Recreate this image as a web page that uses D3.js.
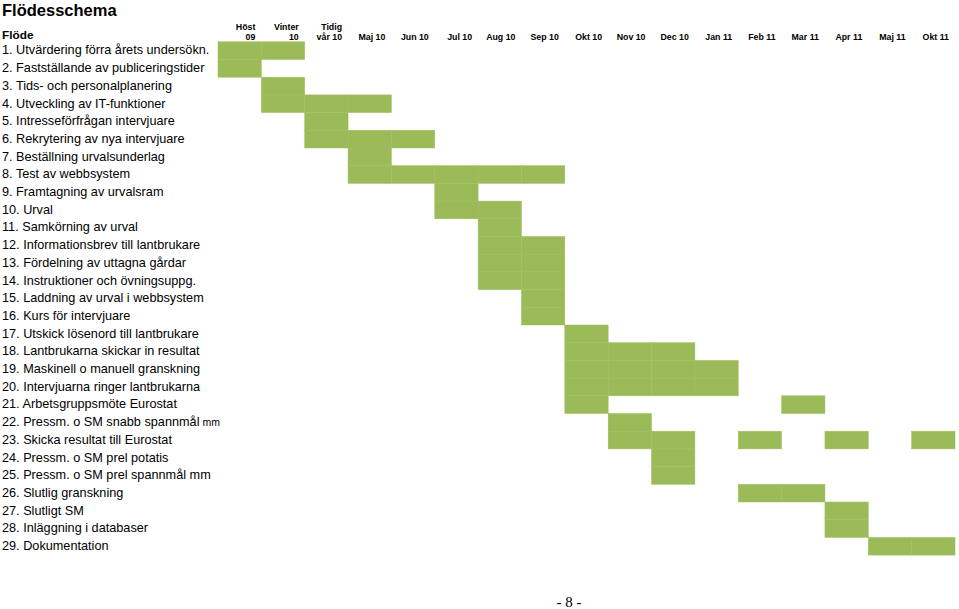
<!DOCTYPE html>
<html><head><meta charset="utf-8">
<script src="https://cdn.jsdelivr.net/npm/d3@7/dist/d3.min.js"></script>
<style>
html,body{margin:0;padding:0;background:#fff;}
svg{display:block;}
</style></head>
<body>
<script>
const title = "Flödesschema";
const flowHeader = "Flöde";
const periodLine1 = ["Höst","Vinter","Tidig","","","","","","","","","","","","","",""];
const periodLine2 = ["09","10","vår 10","Maj 10","Jun 10","Jul 10","Aug 10","Sep 10","Okt 10","Nov 10","Dec 10","Jan 11","Feb 11","Mar 11","Apr 11","Maj 11","Okt 11"];
const tasks = [
 "1. Utvärdering förra årets undersökn.",
 "2. Fastställande av publiceringstider",
 "3. Tids- och personalplanering",
 "4. Utveckling av IT-funktioner",
 "5. Intresseförfrågan intervjuare",
 "6. Rekrytering av nya intervjuare",
 "7. Beställning urvalsunderlag",
 "8. Test av webbsystem",
 "9. Framtagning av urvalsram",
 "10. Urval",
 "11. Samkörning av urval",
 "12. Informationsbrev till lantbrukare",
 "13. Fördelning av uttagna gårdar",
 "14. Instruktioner och övningsuppg.",
 "15. Laddning av urval i webbsystem",
 "16. Kurs för intervjuare",
 "17. Utskick lösenord till lantbrukare",
 "18. Lantbrukarna skickar in resultat",
 "19. Maskinell o manuell granskning",
 "20. Intervjuarna ringer lantbrukarna",
 "21. Arbetsgruppsmöte Eurostat",
 "22. Pressm. o SM snabb spannmål|mm",
 "23. Skicka resultat till Eurostat",
 "24. Pressm. o SM prel potatis",
 "25. Pressm. o SM prel spannmål mm",
 "26. Slutlig granskning",
 "27. Slutligt SM",
 "28. Inläggning i databaser",
 "29. Dokumentation"
];
// active period indices per task
const taskPeriods = [
 [0,1],[0],[1],[1,2,3],[2],[2,3,4],[3],[3,4,5,6,7],[5],[5,6],
 [6],[6,7],[6,7],[6,7],[7],[7],[8],[8,9,10],[8,9,10,11],[8,9,10,11],
 [8,13],[9],[9,10,12,14,16],[10],[10],[12,13],[14],[14],[15,16]
];
const pageNumber = "- 8 -";

const W = 959, H = 609;
const svg = d3.select("body").append("svg").attr("width", W).attr("height", H);

const x = d3.scaleBand().domain(d3.range(periodLine2.length)).range([218, 955]).padding(0);
const y = d3.scaleBand().domain(d3.range(tasks.length)).range([41.8, 41.8 + 29*17.7]).padding(0);

const sans = "'Liberation Sans', Arial, Helvetica, sans-serif";

svg.append("text").attr("x", 2).attr("y", 15.5)
  .attr("font-family", sans).attr("font-weight", "bold").attr("font-size", 16.5)
  .attr("fill", "#000").text(title);

svg.append("text").attr("x", 2).attr("y", 38.5)
  .attr("font-family", sans).attr("font-weight", "bold").attr("font-size", 11.8)
  .attr("fill", "#000").text(flowHeader);

// header period labels
const hdr = svg.append("g").attr("font-family", sans).attr("font-weight", "bold")
  .attr("font-size", 8.8).attr("fill", "#000").attr("text-anchor", "end");
periodLine2.forEach((lab, i) => {
  const xr = x(i) + x.bandwidth() - 6;
  if (periodLine1[i]) hdr.append("text").attr("x", xr).attr("y", 29.5).text(periodLine1[i]);
  hdr.append("text").attr("x", xr).attr("y", 39.5).text(lab);
});

// cells
const cells = [];
taskPeriods.forEach((ps, t) => ps.forEach(p => cells.push({t, p})));
svg.append("g").selectAll("rect").data(cells).join("rect")
  .attr("x", d => x(d.p)).attr("y", d => y(d.t))
  .attr("width", x.bandwidth()).attr("height", y.bandwidth())
  .attr("fill", "#9bbb59").attr("stroke", "#a0bf60").attr("stroke-width", 0.5);

// task labels
const lbl = svg.append("g").attr("font-family", sans).attr("font-size", 12.7).attr("fill", "#000");
tasks.forEach((t, i) => {
  const parts = t.split("|");
  const tx = lbl.append("text").attr("x", 2).attr("y", y(i) + y.bandwidth()/2 + 3.8);
  tx.append("tspan").text(parts[0]);
  if (parts[1]) tx.append("tspan").attr("font-size", 10.5).text(" " + parts[1]);
});

svg.append("text").attr("x", 569).attr("y", 607).attr("text-anchor", "middle")
  .attr("font-family", "'Liberation Serif', 'Times New Roman', serif").attr("font-size", 15)
  .attr("fill", "#000").text(pageNumber);
</script>
</body></html>
